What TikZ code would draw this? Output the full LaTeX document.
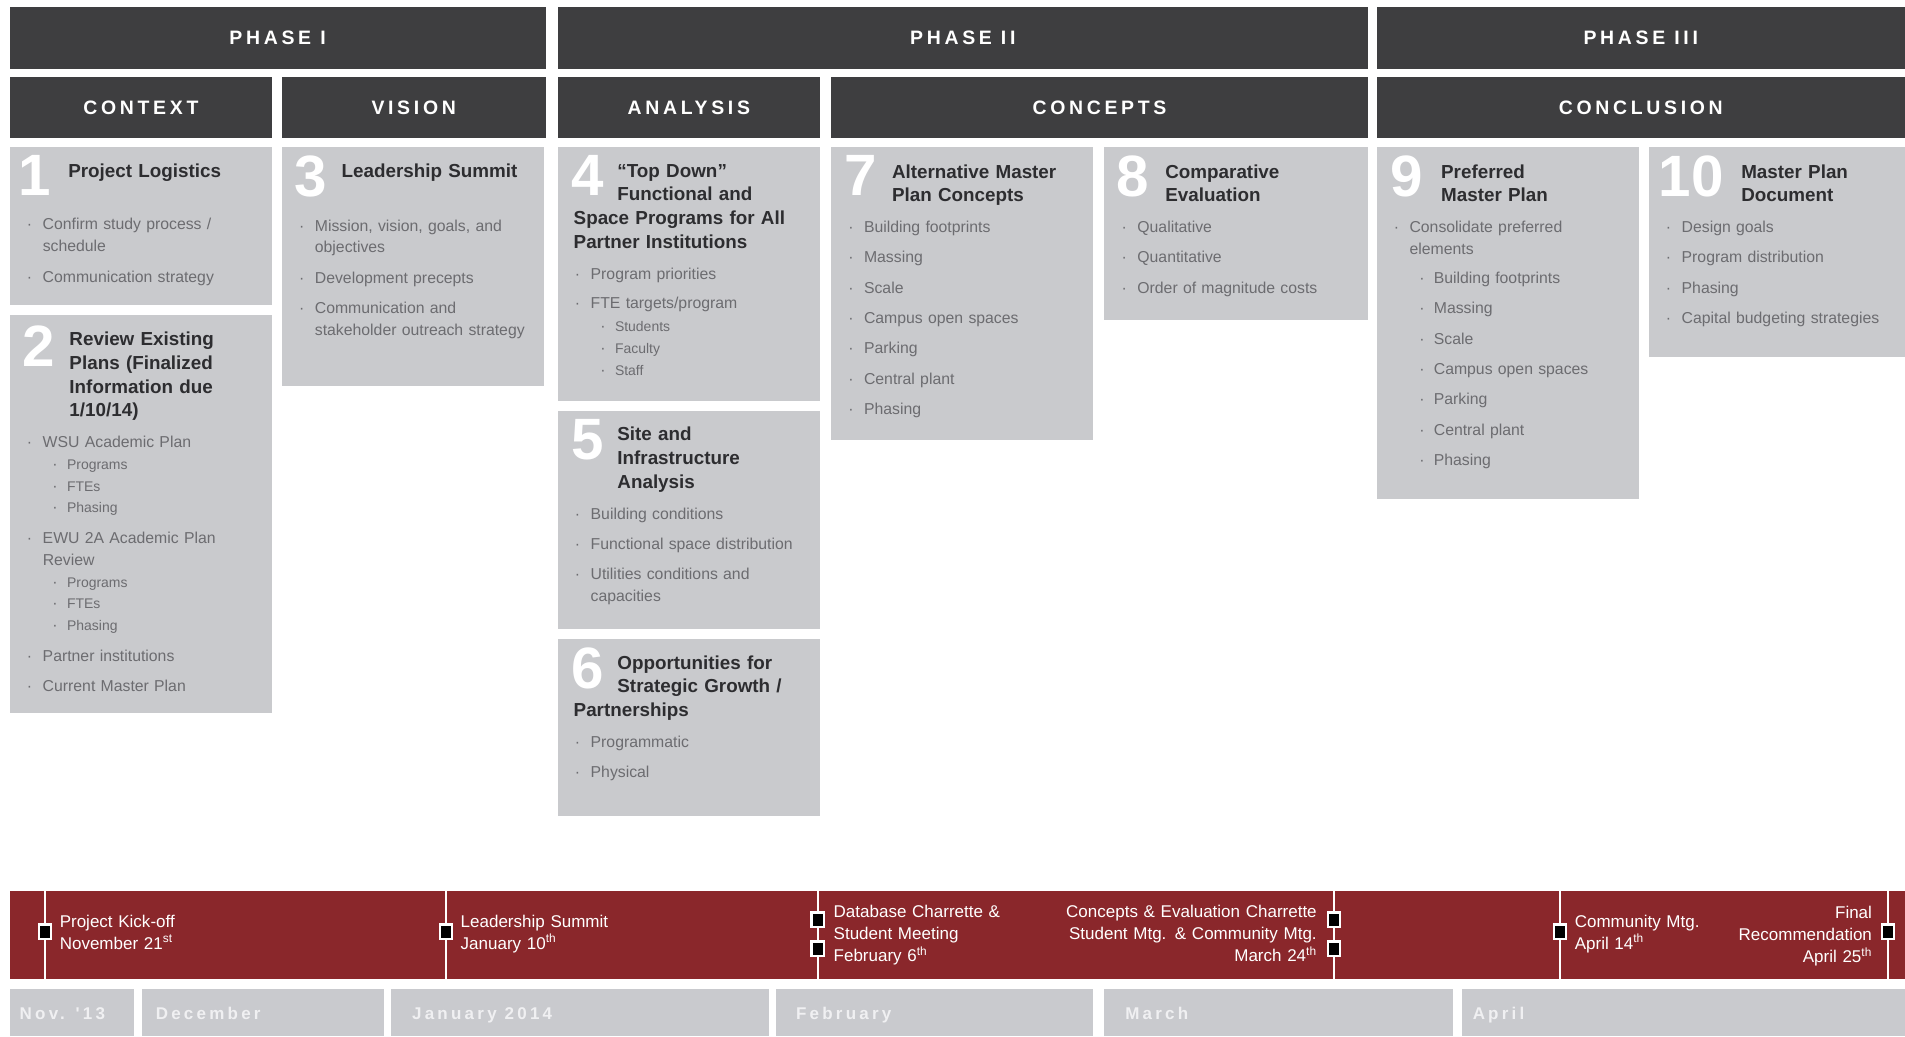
\documentclass[tikz,border=0pt]{standalone}
\usepackage{fontspec}
\setmainfont{Liberation Sans}
\newfontfamily\capsfont[LetterSpace=19]{Liberation Sans}
\usetikzlibrary{positioning}

\definecolor{hdgray}{RGB}{62,62,64}
\definecolor{cardgray}{RGB}{201,202,205}
\definecolor{ttlgray}{RGB}{45,45,48}
\definecolor{txtgray}{RGB}{108,108,112}
\definecolor{barred}{RGB}{138,39,43}
\definecolor{monthgray}{RGB}{201,202,206}
\definecolor{monthtxt}{RGB}{240,240,242}

\newcommand{\bul}{\makebox[13pt][l]{·}}
\newcommand{\cnt}{\hspace*{13pt}}
\newcommand{\sbul}{\hspace*{21pt}\makebox[12pt][l]{·}}
\newcommand{\smtxt}{\fontsize{11.5}{18}\selectfont}
\newcommand{\hangback}{\hspace*{-36pt}}

\begin{document}
\begin{tikzpicture}[x=1pt, y=-1pt,
  hdr/.style={anchor=north west, fill=hdgray, inner sep=0pt, outer sep=0pt, minimum height=51pt, text=white, font=\capsfont\bfseries\fontsize{16}{16}\selectfont},
  card/.style={anchor=north west, fill=cardgray, inner sep=0pt, outer sep=0pt, minimum width=216pt},
  num/.style={anchor=north west, inner sep=0pt, text=white, font=\bfseries\fontsize{48}{48}\selectfont},
  ttl/.style={anchor=north west, inner sep=0pt, text width=175pt, align=left, text=ttlgray, font=\bfseries\fontsize{15.5}{19.5}\selectfont, execute at begin node=\rule{0pt}{12pt}},
  body/.style={anchor=north west, inner sep=0pt, text width=200pt, align=left, text=txtgray, font=\fontsize{13}{18}\selectfont, execute at begin node=\rule{0pt}{10pt}},
  evl/.style={anchor=north west, inner sep=0pt, text width=210pt, align=left, text=white, font=\fontsize{14}{18}\selectfont, execute at begin node=\rule{0pt}{10pt}},
  evr/.style={evl, anchor=north east, align=right},
  milestone/.style={draw=white, fill=black, line width=2pt, minimum width=10pt, minimum height=12pt, inner sep=0pt},
  evline/.style={white, line width=1.6pt},
  month/.style={anchor=north west, fill=monthgray, inner sep=0pt, outer sep=0pt, minimum height=39pt},
  mtxt/.style={anchor=base west, inner sep=0pt, text=monthtxt, font=\capsfont\bfseries\fontsize{14}{14}\selectfont}]
  \fill[white] (0,0) rectangle (1568,853);
  \useasboundingbox (0,0) rectangle (1568,853);

  % phases and steps
  \node[hdr, minimum width=441pt] (ph1) at (8,6) {PHASE I};
  \node[hdr, minimum width=667pt] (ph2) at (459,6) {PHASE II};
  \node[hdr, minimum width=435pt] (ph3) at (1133,6) {PHASE III};
  \node[hdr, minimum width=216pt] (ctx) at (8,63) {CONTEXT};
  \node[hdr, minimum width=217pt] (vis) at (232,63) {VISION};
  \node[hdr, minimum width=216pt] (ana) at (459,63) {ANALYSIS};
  \node[hdr, minimum width=442pt] (con) at (684,63) {CONCEPTS};
  \node[hdr, minimum width=435pt] (ccl) at (1133,63) {CONCLUSION};

  % cards
  \node[card, minimum height=130pt] (c1) at (8,121) {};
  \node[card, minimum height=328pt] (c2) at (8,259) {};
  \node[card, minimum height=197pt] (c3) at (232,121) {};
  \node[card, minimum height=209pt] (c4) at (459,121) {};
  \node[card, minimum height=180pt] (c5) at (459,338) {};
  \node[card, minimum height=146pt] (c6) at (459,526) {};
  \node[card, minimum height=241pt] (c7) at (684,121) {};
  \node[card, minimum height=142pt, minimum width=217pt] (c8) at (909,121) {};
  \node[card, minimum height=290pt] (c9) at (1133,121) {};
  \node[card, minimum height=173pt, minimum width=211pt] (c10) at (1357,121) {};

  \node[num] (n1) at (15,128) {1};
  \node[num] (n2) at (18,268) {2};
  \node[num] (n3) at (242,128) {3};
  \node[num] (n4) at (470,128) {4};
  \node[num] (n5) at (470,345) {5};
  \node[num] (n6) at (470,533) {6};
  \node[num] (n7) at (695,128) {7};
  \node[num] (n8) at (919,128) {8};
  \node[num] (n9) at (1144,128) {9};
  \node[num] (n10) at (1365,128) {10};

  \node[ttl] (t1) at (56,133.5) {Project Logistics};
  \node[ttl] (t2) at (57,272.5) {Review Existing\\Plans (Finalized\\Information due\\1/10/14)};
  \node[ttl] (t3) at (281,133.5) {Leadership Summit};
  \node[ttl] (t4) at (508,133.5) {“Top Down”\\Functional and\\\hangback Space Programs for All\\\hangback Partner Institutions};
  \node[ttl] (t5) at (508,350.5) {Site and\\Infrastructure\\Analysis};
  \node[ttl] (t6) at (508,538.5) {Opportunities for\\Strategic Growth /\\\hangback Partnerships};
  \node[ttl] (t7) at (734,134.5) {Alternative Master\\Plan Concepts};
  \node[ttl] (t8) at (959,134.5) {Comparative\\Evaluation};
  \node[ttl] (t9) at (1186,134.5) {Preferred\\Master Plan};
  \node[ttl] (t10) at (1433,134.5) {Master Plan\\Document};

  \node[body] (b1) at (22,179) {\bul Confirm study process /\\ \cnt schedule\\[7pt]
    \bul Communication strategy};
  \node[body] (b2) at (22,358) {\bul WSU Academic Plan\\
    \sbul{\smtxt Programs}\\ \sbul{\smtxt FTEs}\\ \sbul{\smtxt Phasing}\\[7pt]
    \bul EWU 2A Academic Plan\\ \cnt Review\\
    \sbul{\smtxt Programs}\\ \sbul{\smtxt FTEs}\\ \sbul{\smtxt Phasing}\\[7pt]
    \bul Partner institutions\\[7pt]
    \bul Current Master Plan};
  \node[body] (b3) at (246,180) {\bul Mission, vision, goals, and\\ \cnt objectives\\[7pt]
    \bul Development precepts\\[7pt]
    \bul Communication and\\ \cnt stakeholder outreach strategy};
  \node[body] (b4) at (473,220) {\bul Program priorities\\[6pt]
    \bul FTE targets/program\\[1pt]
    \sbul{\smtxt Students}\\ \sbul{\smtxt Faculty}\\ \sbul{\smtxt Staff}};
  \node[body] (b5) at (473,417) {\bul Building conditions\\[7pt]
    \bul Functional space distribution\\[7pt]
    \bul Utilities conditions and\\ \cnt capacities};
  \node[body] (b6) at (473,605) {\bul Programmatic\\[7pt] \bul Physical};
  \node[body] (b7) at (698,181) {\bul Building footprints\\[7pt] \bul Massing\\[7pt]
    \bul Scale\\[7pt] \bul Campus open spaces\\[7pt] \bul Parking\\[7pt]
    \bul Central plant\\[7pt] \bul Phasing};
  \node[body] (b8) at (923,181) {\bul Qualitative\\[7pt] \bul Quantitative\\[7pt]
    \bul Order of magnitude costs};
  \node[body] (b9) at (1147,181) {\bul Consolidate preferred\\ \cnt elements\\[6pt]
    \sbul Building footprints\\[7pt] \sbul Massing\\[7pt] \sbul Scale\\[7pt]
    \sbul Campus open spaces\\[7pt] \sbul Parking\\[7pt] \sbul Central plant\\[7pt]
    \sbul Phasing};
  \node[body] (b10) at (1371,181) {\bul Design goals\\[7pt] \bul Program distribution\\[7pt]
    \bul Phasing\\[7pt] \bul Capital budgeting strategies};

  % timeline
  \node[anchor=north west, fill=barred, inner sep=0pt, outer sep=0pt, minimum width=1560pt, minimum height=73pt] (tl) at (8,733) {};
  \coordinate (k1) at (37,767);
  \coordinate (k2) at (367,767);
  \coordinate (k3) at (673,769);
  \coordinate (k4) at (1098,769);
  \coordinate (k5) at (1284,767);
  \coordinate (k6) at (1554,767);
  \foreach \k in {k1,k2,k3,k4,k5,k6}
    \draw[evline] (\k |- tl.north) -- (\k |- tl.south);
  \node[milestone] (m1) at (k1) {};
  \node[milestone] (m2) at (k2) {};
  \node[milestone] (m3a) at (673,757) {};
  \node[milestone] (m3b) at (673,781) {};
  \node[milestone] (m4a) at (1098,757) {};
  \node[milestone] (m4b) at (1098,781) {};
  \node[milestone] (m5) at (k5) {};
  \node[milestone] (m6) at (k6) {};

  \node[evl] (e1) at (49,753) {Project Kick-off\\November 21\textsuperscript{st}};
  \node[evl] (e2) at (379,753) {Leadership Summit\\January 10\textsuperscript{th}};
  \node[evl] (e3) at (686,745) {Database Charrette \&\\Student Meeting\\February 6\textsuperscript{th}};
  \node[evr] (e4) at (1084,745) {Concepts \& Evaluation Charrette\\Student Mtg. \& Community Mtg.\\March 24\textsuperscript{th}};
  \node[evl] (e5) at (1296,753) {Community Mtg.\\April 14\textsuperscript{th}};
  \node[evr] (e6) at (1541,746) {Final\\Recommendation\\April 25\textsuperscript{th}};

  % months
  \node[month, minimum width=102pt] (mo1) at (8,814) {};
  \node[month, minimum width=199pt] (mo2) at (117,814) {};
  \node[month, minimum width=311pt] (mo3) at (322,814) {};
  \node[month, minimum width=261pt] (mo4) at (639,814) {};
  \node[month, minimum width=287pt] (mo5) at (909,814) {};
  \node[month, minimum width=365pt] (mo6) at (1203,814) {};
  \node[mtxt] (mt1) at (16,839) {Nov. '13};
  \node[mtxt] (mt2) at (128,839) {December};
  \node[mtxt] (mt3) at (339,839) {January 2014};
  \node[mtxt] (mt4) at (655,839) {February};
  \node[mtxt] (mt5) at (926,839) {March};
  \node[mtxt] (mt6) at (1212,839) {April};
\end{tikzpicture}
\end{document}
